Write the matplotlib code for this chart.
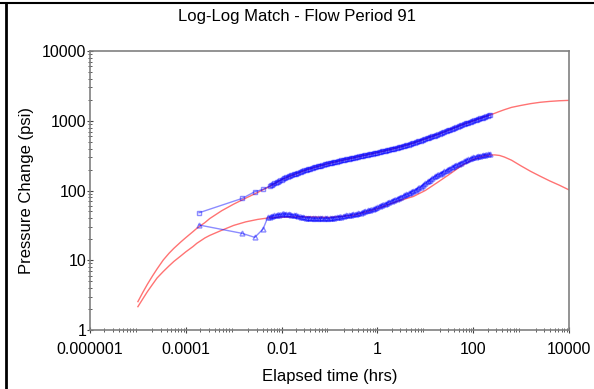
import numpy as np
import matplotlib
matplotlib.use("Agg")
import matplotlib.pyplot as plt
from matplotlib.lines import Line2D
from matplotlib.ticker import LogLocator, FixedLocator, FixedFormatter, NullFormatter

plt.rcParams['font.family'] = ['Liberation Sans', 'DejaVu Sans']

# early (sparse) measured points
t_early = [1.9e-4, 1.5e-3, 2.75e-3, 4.1e-3]
dp_early = [48, 77, 96, 104]
t_early_d = [1.9e-4, 1.5e-3, 2.75e-3, 4.1e-3, 5.2e-3]
der_early = [32, 24.3, 21.3, 28, 42]

# dense measured points (hrs)
t_dense = [0.00562, 0.00631, 0.00708, 0.00794, 0.00891,
           0.0100, 0.0112, 0.0126, 0.0141, 0.0158, 0.0178, 0.0200, 0.0224, 0.0251, 0.0282,
           0.0316, 0.0355, 0.0398, 0.0447, 0.0501, 0.0562, 0.0631, 0.0708, 0.0794, 0.0891,
           0.100, 0.112, 0.126, 0.141, 0.158, 0.178, 0.200, 0.224, 0.251, 0.282,
           0.316, 0.355, 0.398, 0.447, 0.501, 0.562, 0.631, 0.708, 0.794, 0.891,
           1.00, 1.12, 1.26, 1.41, 1.58, 1.78, 2.00, 2.24, 2.51, 2.82,
           3.16, 3.55, 3.98, 4.47, 5.01, 5.62, 6.31, 7.08, 7.94, 8.91,
           10.0, 11.2, 12.6, 14.1, 15.8, 17.8, 20.0, 22.4, 25.1, 28.2,
           31.6, 35.5, 39.8, 44.7, 50.1, 56.2, 63.1, 70.8, 79.4, 89.1,
           100, 112, 126, 141, 158, 178, 200, 224]
dp_dense = [116, 121, 126, 131, 137,
            143, 149, 155, 160, 165, 170, 175, 180, 186, 191,
            196, 201, 206, 211, 217, 222, 226, 231, 236, 241,
            246, 251, 256, 260, 265, 270, 275, 280, 284, 289,
            294, 299, 305, 310, 316, 321, 327, 333, 338, 344,
            350, 357, 363, 370, 377, 384, 392, 400, 408, 416,
            425, 434, 444, 455, 466, 479, 492, 505, 520, 535,
            550, 566, 582, 598, 614, 631, 651, 672, 693, 715,
            738, 761, 785, 810, 836, 863, 889, 915, 941, 968,
            996, 1024, 1053, 1082, 1112, 1143, 1175, 1208]
der_dense = [42, 43, 44, 45, 45,
             46, 46, 46, 46, 45, 45, 44, 43, 42, 42,
             41, 41, 41, 40, 40, 40, 40, 40, 40, 40,
             40, 41, 41, 42, 42, 42, 43, 44, 44, 45,
             46, 46, 47, 48, 49, 51, 52, 53, 54, 56,
             58, 60, 62, 64, 66, 69, 71, 74, 76, 79,
             82, 85, 88, 91, 95, 99, 103, 108, 113, 120,
             127, 135, 143, 151, 159, 167, 174, 181, 189, 197,
             206, 215, 224, 233, 242, 251, 261, 271, 281, 291,
             299, 305, 311, 317, 323, 328, 332, 335]

# in-between samples of the dense record
t_mid = [0.00596, 0.00668, 0.00750, 0.00841, 0.00944,
         0.0106, 0.0119, 0.0133, 0.0150, 0.0168, 0.0188, 0.0211, 0.0237, 0.0266, 0.0299,
         0.0335, 0.0376, 0.0422, 0.0473, 0.0531, 0.0596, 0.0668, 0.0750, 0.0841, 0.0944,
         0.106, 0.119, 0.133, 0.150, 0.168, 0.188, 0.211, 0.237, 0.266, 0.299,
         0.335, 0.376, 0.422, 0.473, 0.531, 0.596, 0.668, 0.750, 0.841, 0.944,
         1.06, 1.19, 1.33, 1.50, 1.68, 1.88, 2.11, 2.37, 2.66, 2.99,
         3.35, 3.76, 4.22, 4.73, 5.31, 5.96, 6.68, 7.50, 8.41, 9.44,
         10.6, 11.9, 13.3, 15.0, 16.8, 18.8, 21.1, 23.7, 26.6, 29.9,
         33.5, 37.6, 42.2, 47.3, 53.1, 59.6, 66.8, 75.0, 84.1, 94.4,
         106, 119, 133, 150, 168, 188, 211]
dp_mid = [118, 124, 128, 134, 140,
          146, 152, 158, 162, 168, 172, 178, 183, 188, 194,
          198, 204, 208, 214, 219, 224, 228, 234, 238, 244,
          248, 254, 258, 262, 268, 272, 278, 282, 286, 292,
          296, 302, 308, 313, 318, 324, 330, 336, 341, 347,
          353, 360, 366, 373, 380, 388, 396, 404, 412, 420,
          430, 439, 449, 460, 472, 485, 498, 512, 527, 542,
          558, 574, 590, 606, 622, 641, 661, 682, 704, 726,
          749, 773, 797, 823, 849, 876, 902, 928, 954, 982,
          1010, 1038, 1067, 1097, 1127, 1159, 1191]
der_mid = [42.5, 43.5, 44.5, 45.5, 46,
           47, 46, 45.5, 46, 44.5, 44.5, 43, 42.5, 41.5, 41.5,
           40.5, 41, 40, 39.5, 40, 39, 40, 39.5, 40, 39.5,
           40.5, 41, 41.5, 42, 42.5, 42.5, 43.5, 44, 44.5, 45.5,
           46.5, 46.5, 47.5, 48.5, 50, 51.5, 52.5, 53.5, 55, 57,
           59, 61, 63, 65, 67.5, 70, 72.5, 75, 77.5, 80.5,
           83.5, 86.5, 89.5, 93, 97, 101, 105.5, 110.5, 116.5, 123.5,
           131, 139, 147, 155, 163, 170.5, 177.5, 185, 193, 201.5,
           210.5, 219.5, 228.5, 237.5, 246.5, 256, 266, 276, 286, 295,
           302, 308, 314, 320, 325.5, 330, 333.5]

# model curves
t_model = [1.0e-5, 1.26e-5, 1.58e-5, 2.0e-5, 2.51e-5, 3.39e-5, 4.47e-5, 5.62e-5, 7.94e-5,
           1.0e-4, 1.41e-4, 1.70e-4, 2.51e-4, 3.16e-4, 5.62e-4, 1.0e-3, 1.78e-3, 3.16e-3,
           5.62e-3, 0.01, 0.0316, 0.1, 0.316, 0.562, 1.0, 1.78, 3.16, 5.62, 10, 17.8, 31.6,
           56.2, 100, 141, 178, 224, 282, 355, 447, 631, 1000, 1585, 2512, 3981, 6310, 10000]
dp_model = [2.55, 3.44, 4.53, 5.9, 7.5, 10.1, 12.6, 14.8, 18.4,
            21.1, 25.7, 28.7, 34.7, 39.6, 51.3, 63.8, 77.6, 93.8,
            114, 143, 196, 246, 294, 321, 350, 384, 425, 479, 550, 631, 738,
            863, 996, 1082, 1143, 1210, 1280, 1360, 1440, 1555, 1660, 1760, 1840, 1895, 1935, 1960]
der_model = [2.16, 2.78, 3.55, 4.47, 5.56, 6.9, 8.3, 9.6, 11.6,
             13.2, 15.7, 17.5, 20.9, 22.7, 26.9, 31.6, 35.5, 38.5,
             40.7, 41.5, 42, 41, 44, 49, 55, 64, 73, 82, 100, 130, 170,
             225, 280, 303, 315, 322, 324, 318, 302, 272, 225, 188, 160, 137, 119, 102]

fig = plt.figure(figsize=(5.94, 3.89), dpi=100)
ax = fig.add_axes([90 / 594, 59 / 389, 479 / 594, 279 / 389])

ax.plot(t_model, dp_model, color='red', lw=1, alpha=0.55)
ax.plot(t_model, der_model, color='red', lw=1, alpha=0.55)

mk = dict(color='blue', alpha=0.45, lw=1, ms=3.5, mfc='none', mew=1)
ax.plot(t_early + t_dense, dp_early + dp_dense, marker='s', **mk)
ax.plot(t_early_d + t_dense, der_early + der_dense, marker='^', **mk)
mid = dict(ls='none', color='blue', alpha=0.35, ms=3, mfc='none', mew=0.9)
ax.plot(t_mid, dp_mid, marker='s', **mid)
ax.plot(t_mid, der_mid, marker='^', **mid)

ax.set_xscale('log')
ax.set_yscale('log')
ax.set_xlim(1e-6, 1e4)
ax.set_ylim(1, 1e4)

xt = [1e-6, 1e-4, 1e-2, 1, 100, 1e4]
ax.xaxis.set_major_locator(FixedLocator(xt))
ax.xaxis.set_major_formatter(FixedFormatter(['0.000001', '0.0001', '0.01', '1', '100', '10000']))
ax.xaxis.set_minor_locator(LogLocator(base=10, subs=np.arange(2, 10), numticks=20))
ax.xaxis.set_minor_formatter(NullFormatter())
yt = [1, 10, 100, 1000, 10000]
ax.yaxis.set_major_locator(FixedLocator(yt))
ax.yaxis.set_major_formatter(FixedFormatter(['1', '10', '100', '1000', '10000']))
ax.yaxis.set_minor_locator(LogLocator(base=10, subs=np.arange(2, 10), numticks=20))
ax.yaxis.set_minor_formatter(NullFormatter())

for s in ax.spines.values():
    s.set_color('#808080')
    s.set_linewidth(1.2)
ax.tick_params(which='both', direction='inout', colors='#404040', labelcolor='black',
               labelsize=11.5)
ax.tick_params(which='major', length=4)
ax.tick_params(which='minor', length=2.5)
ax.tick_params(axis='x', which='major', pad=7)
ax.tick_params(axis='y', which='major', pad=0.5)

ax.set_xlabel('Elapsed time (hrs)', fontsize=12, labelpad=8)
ax.set_ylabel('Pressure Change (psi)', fontsize=12, labelpad=6)
fig.text(0.5, 1 - 16 / 389, 'Log-Log Match - Flow Period 91', fontsize=12,
         ha='center', va='center')

# outer frame lines
fig.add_artist(Line2D([0, 1], [1 - 3 / 389, 1 - 3 / 389], color='black', lw=1.5,
                      transform=fig.transFigure))
fig.add_artist(Line2D([6 / 594, 6 / 594], [0, 1 - 3 / 389], color='black', lw=2,
                      transform=fig.transFigure))

fig.savefig('out.png', dpi=100)
